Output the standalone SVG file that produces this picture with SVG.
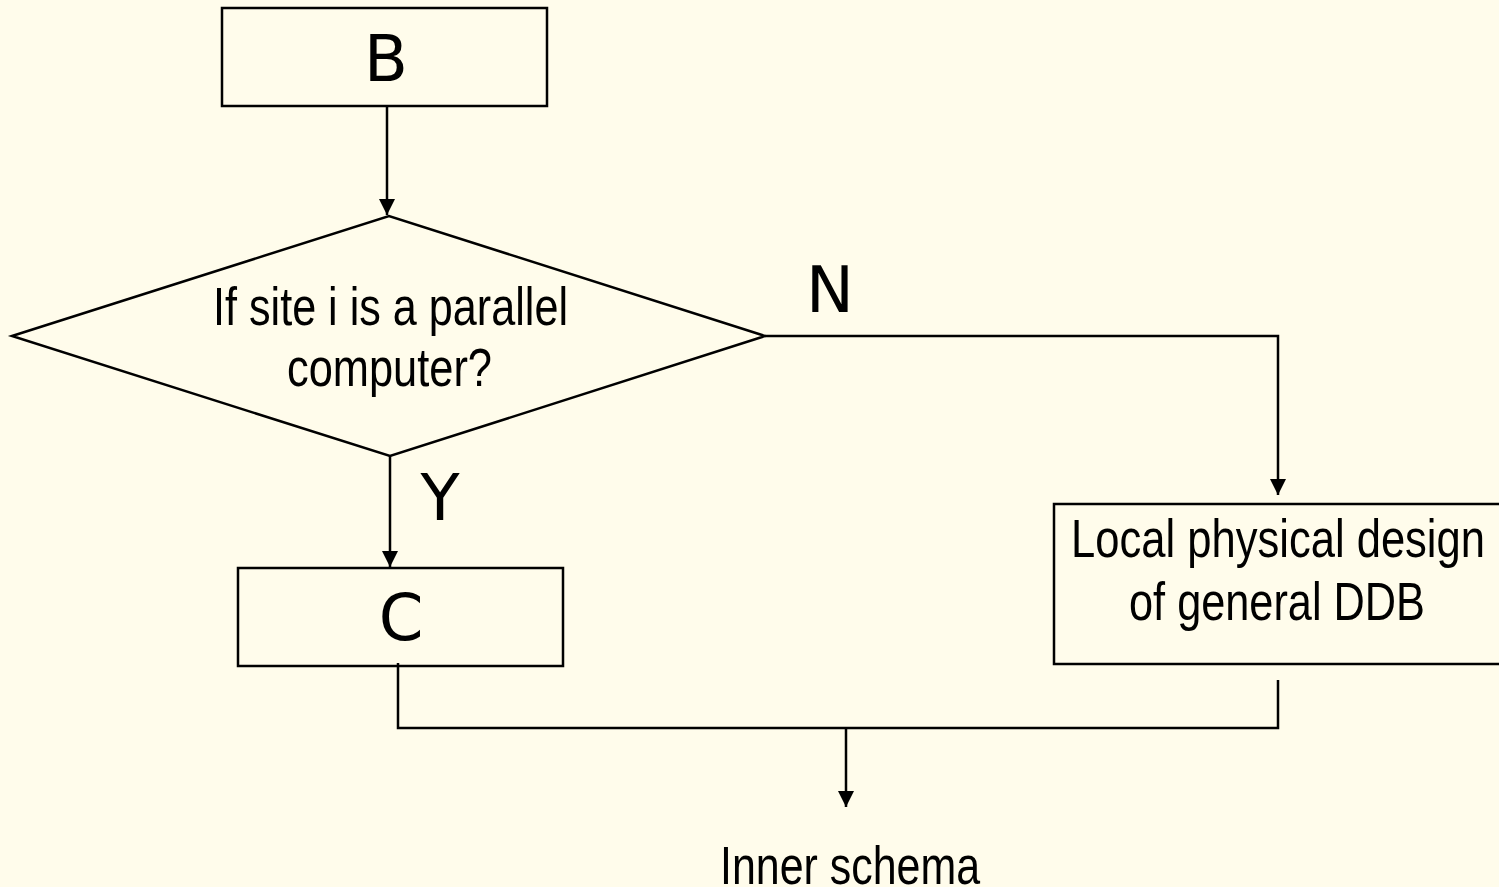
<svg xmlns="http://www.w3.org/2000/svg" width="1499" height="887" viewBox="0 0 1499 887">
  <style>
    .box { fill: none; stroke: #000; stroke-width: 2.5; }
    .wire { fill: none; stroke: #000; stroke-width: 2.5; }
    .big { font-family: "DejaVu Sans", sans-serif; font-size: 64px; fill: #000; text-anchor: middle; }
    .lbl { font-family: "Liberation Sans", Arial, sans-serif; font-size: 54px; fill: #000; }
  </style>
  <defs>
    <marker id="arrow" viewBox="0 0 16 16" refX="16" refY="8" markerWidth="16" markerHeight="16" markerUnits="userSpaceOnUse" orient="auto">
      <path d="M0,0 L16,8 L0,16 Z" fill="#000"/>
    </marker>
  </defs>
  <rect width="1499" height="887" fill="#FFFCEB"/>

  <g id="node-b">
    <rect class="box" x="222" y="8" width="325" height="98"/>
    <text class="big" x="386" y="81">B</text>
  </g>

  <g id="node-decision">
    <polygon class="box" points="12,336 389,216 765,336 390,456"/>
    <text class="lbl" x="213" y="325" textLength="355" lengthAdjust="spacingAndGlyphs">If site i is a parallel</text>
    <text class="lbl" x="287" y="386" textLength="205" lengthAdjust="spacingAndGlyphs">computer?</text>
  </g>

  <g id="node-c">
    <rect class="box" x="238" y="568" width="325" height="98"/>
    <text class="big" x="401" y="640">C</text>
  </g>

  <g id="node-local">
    <rect class="box" x="1054" y="504" width="460" height="160"/>
    <text class="lbl" x="1071" y="557" textLength="414" lengthAdjust="spacingAndGlyphs">Local physical design</text>
    <text class="lbl" x="1129" y="620" textLength="296" lengthAdjust="spacingAndGlyphs">of general DDB</text>
  </g>

  <g id="node-inner">
    <text class="lbl" x="720" y="884" textLength="260" lengthAdjust="spacingAndGlyphs">Inner schema</text>
  </g>

  <g id="connectors">
    <line class="wire" x1="387" y1="106" x2="387" y2="215" marker-end="url(#arrow)"/>
    <polyline class="wire" points="765,336 1278,336 1278,495" marker-end="url(#arrow)"/>
    <line class="wire" x1="390" y1="456" x2="390" y2="567" marker-end="url(#arrow)"/>
    <polyline class="wire" points="398,663 398,728 1278,728 1278,680"/>
    <line class="wire" x1="846" y1="728" x2="846" y2="807" marker-end="url(#arrow)"/>
    <text class="big" x="830" y="312">N</text>
    <text class="big" x="440" y="520">Y</text>
  </g>
</svg>
